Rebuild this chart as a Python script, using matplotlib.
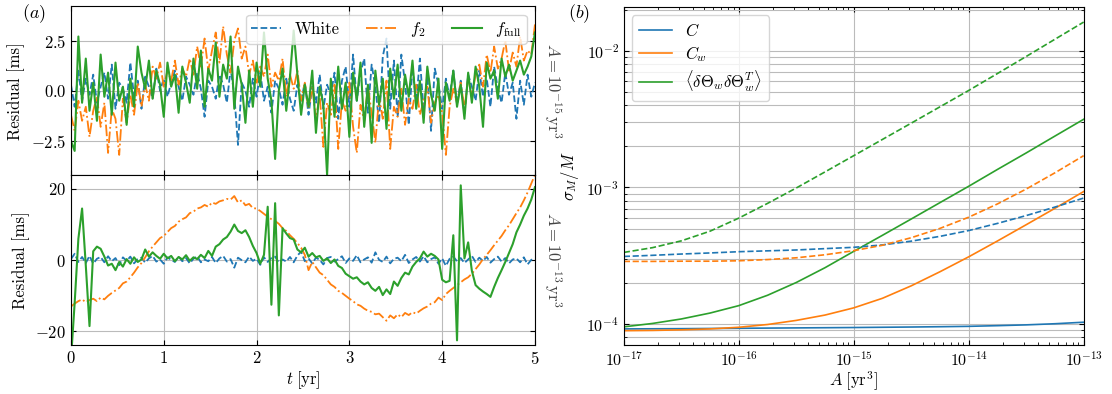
import numpy as np
import matplotlib.pyplot as plt

# === STYLE ===
plt.rcParams.update({
    'font.family': 'serif',
    'font.serif': ['cmr10'],
    'mathtext.fontset': 'cm',
    'axes.formatter.use_mathtext': True,
    'font.size': 12,
    'xtick.direction': 'in',
    'ytick.direction': 'in',
    'xtick.top': True,
    'ytick.right': True,
    'legend.fontsize': 12,
})

# === DATA: RESIDUALS (ms), t step 0.04 yr ===
t_yr = np.linspace(0, 5, 126)

white_15 = [0.3, -0.8, 1.0, -0.5, 0.6, -0.2, 0.8, -0.6, 0.2, 0.9,
            -0.4, 1.3, -0.9, 0.4, 0.1, -0.6, 1.4, -0.3, 0.5, -0.9,
            0.7, 0.2, -0.4, 1.1, 0.0, 0.6, -0.3, 0.4, 1.0, 0.2,
            -0.5, 0.7, 0.3, -0.2, 0.9, 0.1, -1.3, 0.5, 0.2, -0.4,
            0.8, 0.3, -0.6, 1.1, -0.2, -2.7, 0.4, 0.0, -0.8, 0.6,
            -0.3, 0.9, -0.5, 0.2, -1.1, 0.5, 0.1, -0.7, 0.6, -0.4,
            -1.0, 0.3, -0.5, 0.4, -1.2, 0.2, -0.6, 0.8, -0.9, 0.3,
            -0.2, 0.9, -1.4, 0.5, 1.2, -0.8, 1.8, -0.5, 0.9, 1.6,
            -1.1, 1.3, 0.2, -1.6, 1.7, 2.6, -0.9, 1.5, -1.3, 1.8,
            0.4, -1.7, 1.2, -0.6, 1.6, -1.0, 0.8, -2.0, 1.1, 0.3,
            -0.9, 0.6, -0.3, 1.0, -0.7, 0.5, -1.2, 0.8, 0.2, -0.5,
            1.0, -0.3, 0.6, -0.8, 1.2, 0.1, -0.6, 0.9, -0.2, 0.4,
            -1.4, 0.5, -0.7, 0.8, -0.3, 0.4]

f2_15 = [-1.2, -2.0, -0.5, -1.5, -0.8, -2.3, -1.0, -0.3, -1.8, -0.6,
         -3.1, -0.9, -1.4, -3.2, -0.4, -1.6, -0.2, -1.2, 0.4, -0.8,
         0.3, -0.5, 1.2, 0.6, 1.4, 0.2, 1.0, 0.5, 1.5, 0.3,
         1.1, 0.7, 1.6, 0.8, 2.2, 1.2, 2.6, 1.0, 2.0, 2.9,
         1.4, 3.2, 1.8, 0.9, 2.5, 3.1, 1.6, 2.2, 0.8, 1.5,
         0.4, 1.2, 0.7, 1.8, 0.2, 0.9, 0.5, 1.6, -0.3, 0.8,
         0.1, 1.0, -0.5, 0.4, -0.9, 0.2, -1.4, -0.2, -2.8, -0.6,
         -1.2, 0.3, -2.9, -0.5, -1.0, 0.4, -1.8, -3.1, -0.7, -1.5,
         0.2, -1.1, -2.6, -0.3, -1.4, 0.5, -2.9, -0.8, -1.3, 0.1,
         -1.7, -0.4, -0.9, 0.3, -1.2, -0.5, 0.2, -1.6, -0.6, -0.2,
         -1.1, -3.2, -0.8, 0.1, -0.6, 0.4, -0.9, 0.6, -0.3, 0.8,
         1.3, 0.2, 1.8, 0.9, 2.2, 1.1, 1.6, 2.5, 1.0, 1.9,
         1.2, 2.7, 1.5, 2.0, 1.8, 3.3]

ffull_15 = [-2.5, -3.0, 2.7, -0.6, 1.6, -1.0, 0.4, -1.5, 1.8, -0.3,
            0.9, -1.2, 1.4, -0.5, 0.2, -1.7, 0.6, -0.8, 2.2, 0.9,
            0.1, 1.5, -0.4, 1.0, 0.3, -1.3, 1.4, 0.2, 0.8, -1.1,
            1.2, 0.4, -0.6, 1.6, 0.1, 2.0, -0.8, 1.1, 0.5, 2.4,
            -0.3, 1.3, 0.6, 2.7, -0.9, 1.2, 0.3, -1.6, 1.0, -0.8,
            1.4, 0.2, 2.9, 0.6, -0.5, -3.4, 0.0, 1.1, -1.0, 0.7,
            3.0, 0.8, -1.2, 0.3, -0.8, 1.0, -2.1, 0.2, -0.7, -4.2,
            0.6, -1.3, 1.2, -0.9, 0.4, -2.3, 0.9, -0.5, 1.4, -1.8,
            0.3, -2.6, 1.0, -0.7, 0.6, -1.9, 1.1, -0.4, 1.3, -1.0,
            0.8, -0.3, 1.5, -0.9, 0.5, -1.6, 1.2, -0.2, -1.0, 0.6,
            -2.9, 0.4, -0.5, 1.0, -0.8, 0.3, -1.4, 0.9, -0.6, 1.2,
            0.2, -1.8, 1.4, 0.6, 1.0, -0.4, 1.6, 0.7, 1.3, 0.5,
            1.0, 1.5, 0.8, 1.2, 1.7, 2.9]

white_13 = [0.3, 1.8, -0.5, 0.9, -0.8, 1.2, -1.0, 0.4, 0.9, -0.6,
            1.1, -0.3, 0.6, -1.4, 0.8, -0.2, 1.0, -0.9, 0.3, 0.7,
            -0.7, 0.5, 1.2, -0.4, 0.2, -1.0, 0.8, 0.1, -0.5, 1.0,
            -0.3, 0.6, -0.9, 0.4, 1.1, -0.6, 0.2, -0.3, 0.9, -0.8,
            0.5, 1.2, -0.4, 0.3, -2.1, 0.7, 0.0, -0.6, 1.0, -0.2,
            0.4, -1.3, 0.8, -0.5, 0.6, 1.0, -0.7, 0.2, -0.4, 0.9,
            -0.6, 1.3, 2.4, -0.3, 0.5, -0.9, 0.7, 0.1, -1.2, 0.6,
            0.9, -0.4, 0.3, 1.1, -0.8, 0.5, -0.2, 1.4, -0.6, 0.2,
            0.8, -0.7, 2.2, 0.1, -0.5, 1.0, -0.9, 0.4, 0.7, -0.3,
            1.5, -0.8, 0.2, 0.9, -0.4, 1.1, -0.6, 0.3, 0.8, -1.0,
            0.5, -1.6, 0.4, 1.0, -0.3, 0.6, -0.8, 0.2, 1.2, -0.5,
            0.7, -0.2, 0.9, -0.7, 0.3, 1.0, -0.4, 0.6, -0.9, 0.2,
            0.5, -0.6, 0.8, -1.2, 0.1, 0.4]

f2_13 = [-13.0, -12.2, -11.5, -11.0, -11.8, -11.2, -10.8, -11.5, -10.5, -11.0,
         -10.0, -9.2, -8.5, -7.8, -6.5, -6.0, -4.8, -3.5, -2.0, -0.8,
         0.8, 2.5, 3.8, 5.0, 6.2, 6.8, 7.9, 9.0, 9.6, 10.8,
         11.5, 12.0, 13.2, 13.6, 14.5, 14.8, 15.5, 15.0, 16.2, 15.8,
         16.5, 16.8, 17.2, 17.0, 18.0, 16.2, 16.8, 15.4, 15.8, 14.6,
         14.5, 13.8, 13.0, 12.2, 11.5, 11.0, 10.2, 9.0, 8.2, 7.0,
         6.0, 4.8, 3.5, 1.5, -2.8, -0.5, -2.0, -3.5, -4.2, -5.5,
         -6.8, -7.5, -8.6, -9.2, -10.0, -10.8, -11.5, -12.4, -12.8, -13.6,
         -14.2, -14.5, -15.2, -15.0, -16.0, -17.0, -15.5, -16.3, -15.2, -16.0,
         -14.8, -15.4, -14.6, -15.0, -14.2, -13.5, -13.0, -12.2, -11.8, -10.5,
         -11.2, -9.5, -8.6, -7.8, -7.0, -6.2, -5.4, -4.8, -3.8, -2.5,
         -1.2, 0.3, 1.5, 2.8, 4.2, 5.5, 6.8, 8.4, 9.8, 11.5,
         13.2, 14.8, 16.8, 19.0, 21.5, 24.0]

ffull_13 = [-28.0, -12.0, 6.0, 14.5, -1.5, -18.5, 2.5, 3.8, 3.2, 1.0,
            -1.5, -1.0, -2.8, -0.5, -1.8, 0.3, -1.0, 0.8, -0.5, 0.2,
            3.0, 1.0, 2.2, 1.2, 0.4, 1.8, 0.5, 1.2, -0.3, 0.9,
            0.2, 1.4, -0.2, 0.8, 0.3, 1.5, 0.6, 2.6, 1.2, 3.8,
            4.5, 5.8, 6.5, 8.0, 10.0, 8.2, 7.6, 8.4, 6.5, 4.0,
            2.0, -1.0, 1.5, 15.0, -12.5, 16.0, -15.5, 9.0, 7.5, 6.2,
            5.8, 3.0, 2.2, 3.5, 1.0, 2.0, 0.8, 1.2, -0.2, 0.5,
            -0.8, 0.2, -1.6, -2.2, -3.8, -4.5, -5.2, -4.8, -6.0, -6.8,
            -6.2, -7.8, -8.6, -7.5, -9.8, -8.2, -9.5, -6.0, -7.2, -5.0,
            -3.5, -4.0, -1.8, -0.5, 0.5, 2.4, 1.0, 1.8, 1.2, 0.2,
            -5.5, -6.2, -5.8, 7.0, -22.5, 21.0, 0.5, 5.0, -3.0, -7.0,
            -8.0, -8.8, -9.5, -10.3, -7.5, -5.0, -2.8, -0.5, 2.0, 4.5,
            7.8, 10.0, 12.5, 14.5, 17.0, 20.5]

# === DATA: MASS UNCERTAINTY vs AMPLITUDE (quarter-decade steps) ===
amp = np.logspace(-17, -13, 17)

sig_C = [9.18e-5, 9.20e-5, 9.22e-5, 9.25e-5, 9.28e-5, 9.31e-5, 9.34e-5, 9.37e-5, 9.40e-5,
         9.44e-5, 9.48e-5, 9.53e-5, 9.59e-5, 9.70e-5, 9.83e-5, 1.002e-4, 1.028e-4]
sig_Cw = [8.91e-5, 8.95e-5, 9.04e-5, 9.18e-5, 9.44e-5, 9.89e-5, 1.06e-4, 1.16e-4, 1.31e-4,
          1.54e-4, 1.90e-4, 2.41e-4, 3.10e-4, 4.05e-4, 5.33e-4, 7.03e-4, 9.33e-4]
sig_Th = [9.51e-5, 1.007e-4, 1.086e-4, 1.20e-4, 1.36e-4, 1.62e-4, 2.01e-4, 2.58e-4, 3.40e-4,
          4.46e-4, 5.87e-4, 7.74e-4, 1.02e-3, 1.355e-3, 1.79e-3, 2.38e-3, 3.16e-3]
sig_C_d = [3.12e-4, 3.18e-4, 3.25e-4, 3.31e-4, 3.38e-4, 3.43e-4, 3.48e-4, 3.56e-4, 3.64e-4,
           3.79e-4, 4.04e-4, 4.38e-4, 4.83e-4, 5.45e-4, 6.22e-4, 7.18e-4, 8.36e-4]
sig_Cw_d = [2.87e-4, 2.87e-4, 2.88e-4, 2.88e-4, 2.90e-4, 2.96e-4, 3.05e-4, 3.21e-4, 3.44e-4,
            3.77e-4, 4.28e-4, 5.01e-4, 6.05e-4, 7.57e-4, 9.73e-4, 1.28e-3, 1.71e-3]
sig_Th_d = [3.34e-4, 3.62e-4, 4.06e-4, 4.78e-4, 5.96e-4, 7.64e-4, 9.91e-4, 1.30e-3, 1.71e-3,
            2.25e-3, 2.96e-3, 3.90e-3, 5.14e-3, 6.84e-3, 9.12e-3, 1.22e-2, 1.63e-2]

# === FIGURE ===
fig = plt.figure(figsize=(11.12, 3.94), dpi=100)
ax_top = fig.add_axes([0.0638, 0.5558, 0.4173, 0.428])
ax_bot = fig.add_axes([0.0638, 0.1244, 0.4173, 0.4314], sharex=ax_top)
ax_r = fig.add_axes([0.561, 0.1244, 0.4135, 0.8576])

grid_kw = dict(color='#bbbbbb', lw=0.8)

# top: A = 1e-15
ax_top.plot(t_yr, white_15, '--', color='C0', lw=1.3, label='White')
ax_top.plot(t_yr, f2_15, '-.', color='C1', lw=1.3, label='$f_2$')
ax_top.plot(t_yr, ffull_15, '-', color='C2', lw=1.5, label=r'$f_{\rm full}$')
ax_top.set_ylim(-4.2, 4.2)
ax_top.set_yticks([-2.5, 0, 2.5])
ax_top.set_ylabel('Residual [ms]')
ax_top.grid(**grid_kw)
ax_top.tick_params(labelbottom=False)
ax_top.legend(loc='upper right', ncol=3, handlelength=1.8, columnspacing=1.6,
              borderpad=0.3, framealpha=0.8)
ax_top.text(1.015, 0.5, r'$A = 10^{-15}\,\mathrm{yr}^3$', transform=ax_top.transAxes,
            rotation=270, va='center', ha='left', color='#444444')

# bottom: A = 1e-13
ax_bot.plot(t_yr, white_13, '--', color='C0', lw=1.3)
ax_bot.plot(t_yr, f2_13, '-.', color='C1', lw=1.3)
ax_bot.plot(t_yr, ffull_13, '-', color='C2', lw=1.5)
ax_bot.set_ylim(-23.8, 23.9)
ax_bot.set_yticks([-20, 0, 20])
ax_bot.set_xlim(0, 5)
ax_bot.set_ylabel('Residual [ms]')
ax_bot.set_xlabel(r'$t\;[\mathrm{yr}]$', labelpad=2)
ax_bot.grid(**grid_kw)
ax_bot.text(1.015, 0.5, r'$A = 10^{-13}\,\mathrm{yr}^3$', transform=ax_bot.transAxes,
            rotation=270, va='center', ha='left', color='#444444')

# right: sigma_M / M
ax_r.loglog(amp, sig_C, '-', color='C0', lw=1.2, label='$C$')
ax_r.loglog(amp, sig_Cw, '-', color='C1', lw=1.2, label='$C_w$')
ax_r.loglog(amp, sig_Th, '-', color='C2', lw=1.2,
            label=r'$\langle\delta\Theta_w\delta\Theta_w^T\rangle$')
ax_r.loglog(amp, sig_C_d, '--', color='C0', lw=1.2)
ax_r.loglog(amp, sig_Cw_d, '--', color='C1', lw=1.2)
ax_r.loglog(amp, sig_Th_d, '--', color='C2', lw=1.2)
ax_r.set_xlim(1e-17, 1e-13)
ax_r.set_ylim(7.0e-5, 2.1e-2)
ax_r.set_xlabel(r'$A\;[\mathrm{yr}^3]$', labelpad=1)
ax_r.set_ylabel(r'$\sigma_M/M$')
ax_r.grid(which='major', axis='x', **grid_kw)
ax_r.grid(which='both', axis='y', **grid_kw)
ax_r.tick_params(which='both', direction='in', top=True, right=True, labelsize=11.5)
ax_r.legend(loc='upper left', framealpha=0.8, labelspacing=0.3, borderpad=0.4)

fig.text(0.02, 0.965, '$(a)$', fontsize=13, va='center', ha='left')
fig.text(0.511, 0.965, '$(b)$', fontsize=13, va='center', ha='left')

fig.savefig('out.png', dpi=100)
